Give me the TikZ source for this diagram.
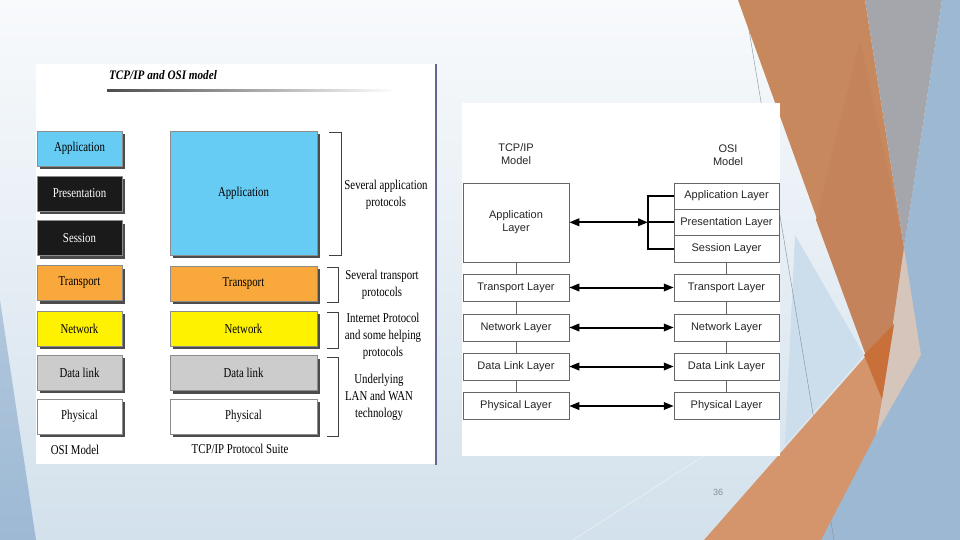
\documentclass[tikz,border=0pt]{standalone}
\usepackage{fontspec}
\setmainfont{Liberation Serif}
\setsansfont{Liberation Sans}
\usepackage{graphicx}
\usetikzlibrary{arrows.meta,shadows}
\newcommand\cz[1]{\scalebox{0.8}[1]{#1}}
\newcommand\czt[1]{\scalebox{0.86}[1]{#1}}
\newcommand\czm[1]{\scalebox{0.8}[1]{\begin{tabular}{@{}c@{}}#1\end{tabular}}}
\definecolor{appblue}{HTML}{66CCF4}
\definecolor{osiblack}{HTML}{1A1A1A}
\definecolor{trorange}{HTML}{F9A93B}
\definecolor{netyellow}{HTML}{FFF200}
\definecolor{dlgray}{HTML}{CCCCCC}
\definecolor{bgtop}{HTML}{F8FAFC}
\definecolor{bgbot}{HTML}{D3E1EC}
\definecolor{edgeblue}{HTML}{9DB9D4}
\definecolor{rblue}{HTML}{9DB8D2}
\definecolor{lblue}{HTML}{CCDDEB}
\definecolor{bigorange}{HTML}{C8885E}
\definecolor{inorange}{HTML}{C4835B}
\definecolor{bandgray}{HTML}{A4A6AC}
\definecolor{salmon}{HTML}{D4956C}
\definecolor{darkor}{HTML}{C9703A}
\definecolor{pale}{HTML}{D6C5BB}
\begin{document}
\begin{tikzpicture}[x=1pt,y=-1pt,
  lbox/.style={draw=black!45, line width=0.4pt, inner sep=0pt, minimum height=35pt,
    font=\fontsize{13.5}{17}\selectfont,
    drop shadow={shadow xshift=3pt, shadow yshift=-3pt, fill=black!70, opacity=1}},
  osil/.style={lbox, minimum width=85pt},
  tcpl/.style={lbox, minimum width=147pt},
  ltxt/.style={inner sep=0pt, font=\fontsize{13.5}{17}\selectfont},
  rbox/.style={draw=black!60, line width=0.5pt, fill=white, inner sep=0pt,
    font=\sffamily\fontsize{11}{13}\selectfont, text=black!85},
  rtxt/.style={inner sep=0pt, align=center, font=\sffamily\fontsize{11}{13}\selectfont, text=black!85},
  twoway/.style={line width=2pt, {Triangle[length=10pt,width=7.5pt]}-{Triangle[length=10pt,width=7.5pt]}},
  thinlink/.style={line width=0.5pt, draw=black!60},
  brk/.style={line width=0.6pt, draw=black!75}
]
\useasboundingbox (0,0) rectangle (960,540);
% ---------- slide background ----------
\shade[top color=bgtop, bottom color=bgbot] (0,0) rectangle (960,540);
\shade[top color=edgeblue!80, bottom color=edgeblue] (0,300) -- (36,540) -- (0,540) -- cycle;
\fill[rblue] (942,0) -- (960,0) -- (960,540) -- (800,540) -- (882,399) -- (904,248) -- cycle;
\fill[lblue] (795,235) -- (864,355) -- (785,445) -- cycle;
\draw[line width=0.4pt, color=black!35!lblue] (744,0) -- (834,540);
\draw[line width=0.4pt, color=white!70!lblue] (573,540) -- (705,455);
\fill[bigorange] (738,0) -- (865,0) -- (904,248) -- (882,399) -- cycle;
\fill[inorange] (860,40) -- (904,248) -- (882,399) -- (816,220) -- cycle;
\fill[bandgray] (865,0) -- (942,0) -- (904,248) -- cycle;
\fill[pale] (904,248) -- (921,355) -- (876,434) -- (882,399) -- cycle;
\fill[salmon] (704,540) -- (894,324) -- (882,399) -- (876,434) -- (821,540) -- cycle;
\fill[darkor] (864,355) -- (894,324) -- (882,399) -- cycle;
\node[font=\sffamily\fontsize{9}{10}\selectfont, text=black!35!lblue] (pnum) at (718,492) {36};
% ---------- left panel ----------
\fill[white] (36,64) rectangle (436,464);
\draw[line width=1.2pt, color=black!70!blue!60] (436,64) -- (436,465);
\node[ltxt, font=\bfseries\itshape\fontsize{13}{15}\selectfont] (ttl) at (163,75) {\czt{TCP/IP and OSI model}};
\shade[left color=black!70, right color=white] (107,90) rectangle (395,92);
% OSI column
\node[osil, fill=appblue] (oa) at (79.5,148.5) {\cz{Application}};
\node[osil, fill=osiblack, text=white] (op) at (79.5,193.5) {\cz{Presentation}};
\node[osil, fill=osiblack, text=white] (os) at (79.5,238) {\cz{Session}};
\node[osil, fill=trorange] (ot) at (79.5,283) {\cz{Transport}};
\node[osil, fill=netyellow] (on) at (79.5,328.5) {\cz{Network}};
\node[osil, fill=dlgray] (od) at (79.5,372.5) {\cz{Data link}};
\node[osil, fill=white] (oph) at (79.5,416.5) {\cz{Physical}};
% TCP/IP column
\node[tcpl, fill=appblue, minimum height=124pt] (ta) at (243.5,193) {\cz{Application}};
\node[tcpl, fill=trorange] (tt) at (243.5,283.5) {\cz{Transport}};
\node[tcpl, fill=netyellow] (tn) at (243.5,328.5) {\cz{Network}};
\node[tcpl, fill=dlgray] (td) at (243.5,373) {\cz{Data link}};
\node[tcpl, fill=white] (tph) at (243.5,416.5) {\cz{Physical}};
\node[ltxt] (osilab) at (75,450) {\cz{OSI Model}};
\node[ltxt] (tcplab) at (240,449) {\cz{TCP/IP Protocol Suite}};
% brackets
\draw[brk] (329,132) -- (341,132) -- (341,255) -- (329,255);
\draw[brk] (327,267) -- (338,267) -- (338,302) -- (327,302);
\draw[brk] (327,312) -- (338,312) -- (338,348) -- (327,348);
\draw[brk] (327,357) -- (338,357) -- (338,436) -- (327,436);
\node[ltxt] (b1) at (386,194.5) {\czm{Several application\\protocols}};
\node[ltxt] (b2) at (382,285) {\czm{Several transport\\protocols}};
\node[ltxt] (b3) at (383,336) {\czm{Internet Protocol\\and some helping\\protocols}};
\node[ltxt] (b4) at (379,397) {\czm{Underlying\\LAN and WAN\\technology}};
% ---------- right panel ----------
\fill[white] (462,103) rectangle (780,456);
\node[rtxt] (tcph) at (516,154) {TCP/IP\\Model};
\node[rtxt] (osih) at (728,155) {OSI\\Model};
\node[rbox, minimum width=106pt, minimum height=79pt, align=center] (rta) at (516,222.5) {Application\\Layer};
\node[rbox, minimum width=106pt, minimum height=27pt] (rtt) at (516,287.5) {Transport Layer};
\node[rbox, minimum width=106pt, minimum height=27pt] (rtn) at (516,327.5) {Network Layer};
\node[rbox, minimum width=106pt, minimum height=27pt] (rtd) at (516,366.5) {Data Link Layer};
\node[rbox, minimum width=106pt, minimum height=27pt] (rtp) at (516,406) {Physical Layer};
\node[rbox, minimum width=105pt, minimum height=26.3pt] (roa) at (726.5,196) {Application Layer};
\node[rbox, minimum width=105pt, minimum height=26.3pt] (rop) at (726.5,222.3) {Presentation Layer};
\node[rbox, minimum width=105pt, minimum height=26.3pt] (ros) at (726.5,248.6) {Session Layer};
\node[rbox, minimum width=105pt, minimum height=27pt] (rot) at (726.5,287.5) {Transport Layer};
\node[rbox, minimum width=105pt, minimum height=27pt] (ron) at (726.5,327.5) {Network Layer};
\node[rbox, minimum width=105pt, minimum height=27pt] (rod) at (726.5,366.5) {Data Link Layer};
\node[rbox, minimum width=105pt, minimum height=27pt] (rop2) at (726.5,406) {Physical Layer};
% vertical links
\draw[thinlink] (rta.south) -- (rtt.north);
\draw[thinlink] (rtt.south) -- (rtn.north);
\draw[thinlink] (rtn.south) -- (rtd.north);
\draw[thinlink] (rtd.south) -- (rtp.north);
\draw[thinlink] (ros.south) -- (rot.north);
\draw[thinlink] (rot.south) -- (ron.north);
\draw[thinlink] (ron.south) -- (rod.north);
\draw[thinlink] (rod.south) -- (rop2.north);
% bracket and arrows
\coordinate (jn) at (648,222.3);
\draw[line width=2pt] (roa.west) -| (jn) |- (ros.west);
\draw[line width=2pt] (jn) -- (rop.west);
\draw[twoway] (rta.east |- jn) -- (jn);
\draw[twoway] (rtt.east) -- (rot.west);
\draw[twoway] (rtn.east) -- (ron.west);
\draw[twoway] (rtd.east) -- (rod.west);
\draw[twoway] (rtp.east) -- (rop2.west);
\end{tikzpicture}
\end{document}
